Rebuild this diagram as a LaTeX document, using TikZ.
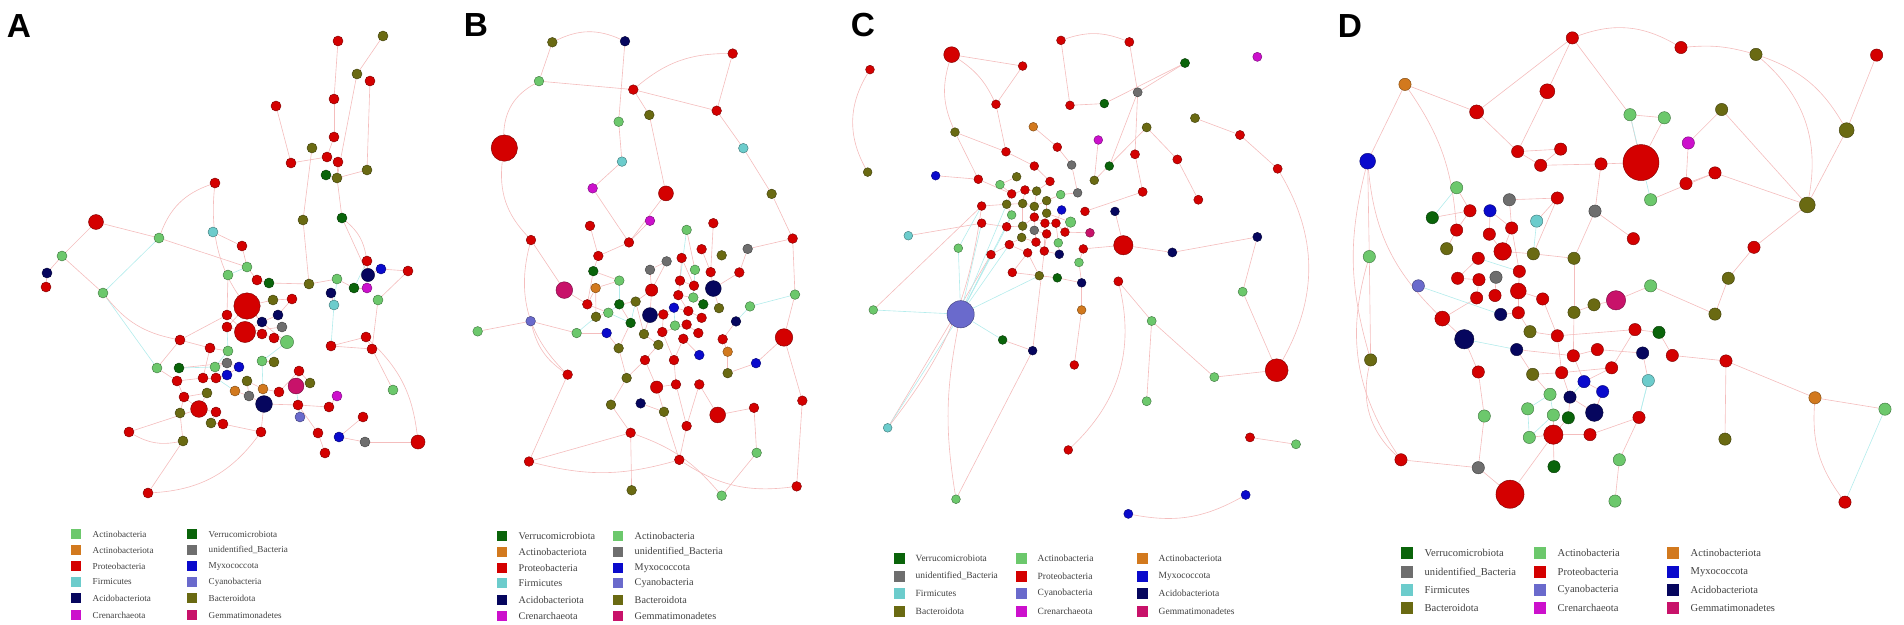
\documentclass[tikz,border=0pt]{standalone}
\usepackage{fontspec}
\setmainfont{Liberation Serif}
\newfontfamily\panelfont{Liberation Sans}
\usetikzlibrary{positioning,backgrounds}

% phylum colours
\definecolor{ac}{HTML}{6CC86C}% Actinobacteria
\definecolor{ao}{HTML}{D2791E}% Actinobacteriota
\definecolor{pr}{HTML}{D40000}% Proteobacteria
\definecolor{fi}{HTML}{6CCCCC}% Firmicutes
\definecolor{ad}{HTML}{06065E}% Acidobacteriota
\definecolor{cr}{HTML}{CC10CC}% Crenarchaeota
\definecolor{ve}{HTML}{0A640A}% Verrucomicrobiota
\definecolor{un}{HTML}{6E6E6E}% unidentified_Bacteria
\definecolor{my}{HTML}{0A0ACC}% Myxococcota
\definecolor{cy}{HTML}{6A6ACC}% Cyanobacteria
\definecolor{ba}{HTML}{6A6A12}% Bacteroidota
\definecolor{ge}{HTML}{C8126A}% Gemmatimonadetes
\definecolor{edgepink}{HTML}{F4BDBD}
\definecolor{edgecyan}{HTML}{B4ECEC}

\tikzset{
  otu/.style={circle, inner sep=0pt, line width=0.25pt},
  pe/.style={draw=edgepink, line width=0.35pt},
  ce/.style={draw=edgecyan, line width=0.35pt},
  keysq/.style={inner sep=0pt},
  keytxt/.style={inner sep=0pt, anchor=west, text=black!75},
  lab/.style={font=\panelfont\bfseries\fontsize{19}{19}\selectfont, inner sep=0pt}
}

\begin{document}
\begin{tikzpicture}[x=0.02cm, y=-0.02cm]
\useasboundingbox (0,0) rectangle (1904,625);

\node[lab] (labA) at (19,26) {A};
\node[lab] (labB) at (476,25) {B};
\node[lab] (labC) at (863,25) {C};
\node[lab] (labD) at (1350,26) {D};

% ---------------- A
\begin{scope}
\foreach \x/\y/\col/\sz [count=\i] in {
  338/41/pr/5.7, 383/36/ba/5.7, 357/74/ba/5.7, 370/81/pr/5.7, 276/106/pr/5.7,
  334/99/pr/5.7, 334/137/pr/5.7, 312/148/ba/5.7, 327/157/pr/5.7, 338/162/pr/5.7,
  291/163/pr/5.7, 367/170/ba/5.7, 326/175/ve/5.7, 337/178/ba/5.7, 215/183/pr/5.7,
  96/222/pr/8.5, 303/220/ba/5.7, 342/218/ve/5.7, 159/238/ac/5.7, 213/232/fi/5.7,
  242/246/pr/5.7, 62/256/ac/5.7, 47/273/ad/5.7, 46/287/pr/5.7, 103/293/ac/5.7,
  247/267/ac/5.7, 228/275/ac/5.7, 257/280/pr/5.7, 269/283/ve/5.7, 309/284/ba/5.7,
  367/261/pr/5.7, 368/275/ad/7.5, 381/269/my/5.7, 408/271/pr/5.7, 337/279/ac/5.7,
  354/288/ve/5.7, 367/288/cr/5.7, 331/293/ad/5.7, 247/306/pr/15, 273/300/ba/5.7,
  292/299/pr/5.7, 334/305/fi/5.7, 378/300/ac/5.7, 227/315/pr/5.7, 227/327/pr/5.7,
  245/332/pr/12, 262/322/ad/5.7, 278/315/ad/5.7, 282/327/un/5.7, 262/334/pr/5.7,
  274/338/pr/5.7, 287/342/ac/7.5, 180/340/pr/5.7, 210/348/pr/5.7, 228/351/ac/5.7,
  331/346/pr/5.7, 366/337/pr/5.7, 372/349/pr/5.7, 157/368/ac/5.7, 179/368/ve/5.7,
  227/363/un/5.7, 215/367/ac/5.7, 239/367/my/5.7, 262/361/ac/5.7, 274/362/ba/5.7,
  177/381/pr/5.7, 203/378/pr/5.7, 216/378/pr/5.7, 227/375/my/5.7, 247/381/ba/5.7,
  299/371/pr/5.7, 296/386/ge/9, 310/383/ba/5.7, 235/391/ao/5.7, 263/389/ao/5.7,
  249/396/un/5.7, 279/392/pr/5.7, 337/396/cr/5.7, 393/390/ac/5.7, 184/397/pr/5.7,
  207/393/ba/5.7, 199/409/pr/9.5, 216/412/pr/5.7, 264/404/ad/9.5, 298/405/pr/5.7,
  329/407/pr/5.7, 180/413/ba/5.7, 300/417/cy/5.7, 363/417/pr/5.7, 211/423/ba/5.7,
  223/424/pr/5.7, 129/432/pr/5.7, 261/432/pr/5.7, 318/433/pr/5.7, 339/437/my/5.7,
  365/442/un/5.7, 418/442/pr/8, 183/441/ba/5.7, 325/453/pr/5.7, 148/493/pr/5.7}
  \node[otu, fill=\col, draw=\col!60!black, minimum size=\sz pt] (a\i) at (\x,\y) {};
\end{scope}

% ---------------- B (left part, read at 3x)
\begin{scope}[shift={(380,0)}, xscale=0.3333, yscale=0.3381]
\foreach \x/\y/\col/\sz [count=\i] in {
  517/125/ba/5.5, 735/122/ad/5.5, 477/240/ac/5.5, 760/265/pr/5.5, 808/340/ba/5.5,
  716/360/ac/5.5, 373/438/pr/15, 726/478/fi/5.5, 638/557/cr/5.5, 858/572/pr/8.5,
  810/653/cr/5.5, 630/668/pr/5.5, 920/680/ac/5.5, 453/710/pr/5.5, 747/717/pr/5.5,
  655/757/pr/5.5, 965/737/pr/5.5, 905/763/pr/5.5, 860/773/un/5.5, 810/798/un/5.5,
  640/802/ve/5.5, 945/798/ac/5.5, 718/830/ac/5.5, 553/858/ge/9.5, 647/852/ao/5.5,
  815/858/pr/7, 900/830/pr/5.5, 942/845/pr/5.5, 622/900/pr/5.5, 718/900/ve/5.5,
  767/892/ba/5.5, 895/873/pr/5.5, 940/880/ac/5.5, 970/900/ve/5.5, 648/937/ba/5.5,
  685/925/ac/5.5, 810/932/ad/8.5, 850/930/pr/5.5, 882/910/my/5.5, 925/920/pr/5.5,
  965/940/pr/5.5, 452/950/cy/5.5, 293/980/ac/5.5, 590/985/ac/5.5, 680/985/my/5.5,
  752/955/ve/5.5, 792/988/ba/5.5, 847/982/pr/5.5, 885/963/ac/5.5, 920/960/pr/5.5,
  955/985/pr/5.5, 910/1002/pr/5.5, 835/1020/ba/5.5, 716/1030/ba/5.5, 958/1050/my/5.5,
  795/1065/pr/5.5, 882/1065/pr/5.5, 563/1108/pr/5.5, 740/1118/ba/5.5, 830/1145/pr/7,
  888/1137/pr/5.5, 958/1137/pr/5.5, 693/1197/ba/5.5, 782/1193/ad/5.5, 852/1218/ba/5.5,
  920/1260/pr/5.5, 752/1280/pr/5.5, 447/1365/pr/5.5, 898/1360/pr/5.5, 755/1450/ba/5.5}
  \node[otu, fill=\col, draw=\col!60!black, minimum size=\sz pt] (b\i) at (\x,\y) {};
\end{scope}

% ---------------- B (right part) and C (left part)
\begin{scope}[shift={(700,0)}, xscale=0.3333, yscale=0.3571]
\foreach \x/\y/\col/\sz [count=\i] in {
  98/150/pr/5.5, 50/310/pr/5.5, 130/415/fi/5.5, 215/543/ba/5.5, 40/625/pr/5.5,
  278/668/pr/5.5, 143/697/un/5.5, 65/715/ba/5.5, 32/762/pr/5.5, 118/763/pr/5.5,
  40/808/ad/9, 285/825/ac/5.5, 57/863/ba/5.5, 150/858/ac/5.5, 108/900/ad/5.5,
  252/945/pr/10, 68/950/pr/5.5, 83/985/ao/5.5, 168/1017/my/5.5, 83/1045/ba/5.5,
  307/1122/pr/5.5, 53/1162/pr/9, 162/1142/pr/5.5, 170/1268/ac/5.5, 290/1362/pr/5.5,
  65/1388/ac/5.5}
  \node[otu, fill=\col, draw=\col!60!black, minimum size=\sz pt] (bb\i) at (\x,\y) {};
\foreach \x/\y/\col/\sz [count=\i] in {
  510/195/pr/5, 755/153/pr/9, 1083/113/pr/5, 968/185/pr/5, 888/292/pr/5,
  1110/295/pr/5, 1213/290/ve/5, 765/370/ba/5, 1000/355/ao/5, 1195/392/cr/5,
  1072/412/pr/5, 918/425/pr/5, 503/482/ba/5, 707/492/my/5, 1003/465/pr/5,
  1115/462/un/5, 1228/465/ve/5, 835/502/pr/5, 950/495/ba/5, 1050/508/pr/5,
  1183/505/ba/5, 900/517/ac/5, 935/543/pr/5, 975/532/pr/5, 1010/535/ba/5,
  1082/545/ac/5, 1133/540/un/5, 845/577/pr/5, 920/572/ba/5, 968/570/ba/5,
  1003/578/ba/5, 1040/562/ba/5, 1085/588/my/5, 1155/592/pr/5, 1245/592/ad/5,
  935/602/ac/5, 1040/597/ba/5, 1112/622/ac/6, 845/625/pr/5, 920/635/pr/5,
  968/633/ba/5, 1003/608/pr/5, 1035/625/pr/5, 1068/625/pr/5, 1003/645/un/5,
  1040/655/pr/5, 1095/650/pr/5, 1170/652/ge/5, 775/695/ac/5, 625/660/fi/5,
  873/713/pr/5, 928/685/pr/5, 965/665/ba/5, 1008/678/pr/5, 983/708/pr/5,
  1033/703/pr/5, 1078/712/ad/5, 1075/680/ac/5, 1150/697/pr/5, 1137/735/ac/5,
  937/763/pr/5, 1018/772/ba/5, 1072/778/ve/5, 1145/792/ad/5, 520/868/ac/5,
  782/880/cy/15.5, 1145/868/ao/5, 908/952/ve/5, 998/982/ad/5, 1123/1022/pr/5,
  563/1198/fi/5, 1105/1260/pr/5, 768/1398/ac/5}
  \node[otu, fill=\col, draw=\col!60!black, minimum size=\sz pt] (c\i) at (\x,\y) {};
\end{scope}

% ---------------- C (right part) and D (left part)
\begin{scope}[shift={(1100,0)}, xscale=0.3333, yscale=0.3444]
\foreach \x/\y/\col/\sz [count=\i] in {
  88/122/pr/5.2, 255/183/ve/5.2, 472/165/cr/5.2, 113/268/un/5.2, 285/343/ba/5.2,
  140/370/ba/5.2, 420/392/pr/5.2, 105/448/pr/5.2, 232/463/pr/5.2, 533/490/pr/5.2,
  128/557/pr/5.2, 295/580/pr/5.2, 70/712/pr/11, 217/733/ad/5.2, 472/688/ad/5.2,
  55/817/pr/5.2, 428/847/ac/5.2, 155/932/ac/5.2, 343/1095/ac/5.2, 530/1075/pr/13,
  140/1165/ac/5.2, 450/1270/pr/5.2, 588/1290/ac/5.2, 437/1437/my/5.2, 85/1492/my/5.2}
  \node[otu, fill=\col, draw=\col!60!black, minimum size=\sz pt] (cc\i) at (\x,\y) {};
\foreach \x/\y/\col/\sz [count=\i] in {
  915/245/ao/7, 1130/325/pr/8, 803/468/my/9, 1070/545/ac/7, 997/632/ve/7,
  1110/612/pr/7, 1070/668/pr/7, 1040/722/ba/7, 808/745/ac/7, 1135/750/pr/7,
  955/830/cy/7, 1073/808/pr/7, 1137/812/pr/7, 1130/865/pr/7, 1027/925/pr/8.5,
  1093/985/ad/11, 812/1045/ba/7, 1135/1080/pr/7, 1153/1208/ac/7, 903/1335/pr/7,
  1135/1358/un/7}
  \node[otu, fill=\col, draw=\col!60!black, minimum size=\sz pt] (d\i) at (\x,\y) {};
\end{scope}

% ---------------- D (right part)
\begin{scope}[shift={(1480,0)}, xscale=0.3333, yscale=0.3444]
\foreach \x/\y/\col/\sz [count=\i] in {
  277/110/pr/7, 603/138/pr/7, 828/158/ba/7, 1190/160/pr/7, 202/265/pr/8.5,
  450/333/ac/7, 553/342/ac/7, 725/318/ba/7, 1100/378/ba/8.5, 625/415/cr/7,
  483/472/pr/20.5, 113/440/pr/7, 242/433/pr/7, 182/480/pr/7, 363/476/pr/7,
  705/502/pr/7, 618/533/pr/7, 232/575/pr/7, 88/580/un/7, 345/613/un/7,
  512/580/ac/7, 982/595/ba/9, 30/612/my/7, 170/642/fi/7, 95/662/pr/7,
  28/680/pr/7, 460/693/pr/7, 68/730/pr/10, 160/737/ba/7, 282/750/ba/7,
  822/718/pr/7, 118/788/pr/7, 48/805/un/7, 745/808/ba/7, 512/830/ac/7,
  115/845/pr/9, 45/858/pr/7, 188/868/pr/7, 408/872/ge/11, 282/907/ba/7,
  342/885/ba/7, 705/912/ba/7, 62/913/ad/7, 115/908/pr/7, 150/963/ba/7,
  232/975/pr/7, 465/957/pr/7, 537/965/ve/7, 110/1015/ad/7, 280/1033/pr/7,
  352/1015/pr/7, 488/1025/ad/7, 577/1032/pr/7, 738/1048/pr/7, 158/1087/ba/7,
  245/1082/pr/7, 395/1068/pr/7, 312/1108/my/7, 368/1137/my/7, 505/1105/fi/7,
  210/1145/ac/7, 270/1153/ad/7, 343/1198/ad/10, 143/1187/ac/7, 220/1205/ac/7,
  265/1213/ve/7, 477/1212/pr/7, 1005/1155/ao/7, 1215/1188/ac/7, 148/1270/ac/7,
  220/1262/pr/11, 330/1262/pr/7, 735/1275/ba/7, 418/1335/ac/7, 222/1355/ve/7,
  90/1435/pr/16, 405/1455/ac/7, 1095/1458/pr/7}
  \node[otu, fill=\col, draw=\col!60!black, minimum size=\sz pt] (dd\i) at (\x,\y) {};
\end{scope}

% ---------------- edges, behind the nodes
\begin{pgfonlayer}{background}
% A
\foreach \u/\v in {a1/a6, a6/a7, a7/a9, a9/a10, a2/a3, a3/a14, a4/a12, a10/a14,
  a12/a14, a5/a11, a11/a9, a13/a14, a14/a18, a18/a32, a17/a30, a8/a17, a16/a19,
  a16/a22, a22/a23, a22/a25, a23/a24, a20/a21, a21/a26, a26/a28, a27/a44, a28/a29,
  a29/a30, a30/a35, a35/a36, a36/a37, a31/a32, a32/a33, a33/a34, a38/a42, a39/a40,
  a39/a45, a40/a41, a41/a48, a46/a47, a46/a50, a44/a53, a53/a59, a59/a66, a66/a80,
  a80/a87, a87/a98, a98/a100, a92/a82, a82/a83, a57/a79, a89/a95, a95/a96, a96/a97,
  a94/a99, a86/a78, a88/a85, a71/a72, a72/a73, a54/a67, a84/a93, a56/a57, a58/a43,
  a34/a43, a61/a62, a63/a69, a70/a75, a76/a84, a77/a71, a85/a94, a93/a91, a90/a91,
  a81/a80, a19/a26, a44/a46, a45/a46, a39/a47, a46/a49, a47/a48, a50/a51, a51/a52,
  a53/a54, a54/a55, a60/a61, a61/a63, a64/a65, a66/a67, a67/a68, a68/a69, a70/a76,
  a74/a76, a75/a77, a80/a82, a81/a82, a83/a90, a84/a85, a85/a86, a71/a73, a56/a58}
  \draw[pe] (\u) -- (\v);
\foreach \u/\v in {a19/a25, a25/a59, a52/a64, a35/a42, a62/a55, a68/a74, a26/a27,
  a45/a55, a42/a56, a31/a36, a72/a88, a60/a62, a64/a75}
  \draw[ce] (\u) -- (\v);
\foreach \u/\v/\b in {a19/a15/25, a25/a53/-20, a100/a93/-25, a97/a57/-20, a18/a31/20,
  a15/a52/-30, a92/a98/-20}
  \draw[pe] (\u) to[bend left=\b] (\v);
% B
\foreach \u/\v in {b1/b3, b3/b4, b2/b6, b6/b8, b4/b5, b8/b9, b9/b15, b10/b15,
  b15/b16, b11/b15, b13/b22, b14/b24, b24/b29, b29/b36, b42/b43, b42/b44, b44/b45,
  b12/b16, b16/b21, b21/b23, b58/b68, b68/b67, b67/b63, b67/b70, b69/b66, b66/b62,
  b60/b61, b61/b57, b57/b52, b37/b38, b38/b39, b39/b40, b20/b19, b19/b26, b26/b37,
  b18/b27, b27/b28, b30/b31, b31/b47, b46/b54, b54/b59, b59/b63, b64/b65, b65/b69,
  b53/b56, b56/b60, b48/b50, b50/b51, b40/b41, b32/b33, b33/b34, b35/b36, b25/b29,
  b21/b29, b17/bb9, bb9/bb11, bb11/bb13, bb11/bb10, bb10/bb7, bb7/bb6, bb6/bb12,
  bb12/bb16, bb16/bb21, bb21/bb25, bb22/bb23, bb23/bb24, bb24/bb26, bb22/b62,
  bb1/bb2, bb2/bb3, bb3/bb4, bb4/bb6, bb5/bb9, bb15/bb17, bb17/bb18, bb18/bb20,
  bb20/bb19, bb19/bb16, b4/bb2, b5/b10, b26/b31, b30/b46, b37/b47, b38/b48, b32/b40,
  b27/b32, b18/b28, b20/b26, b23/b25, b25/b35, b45/b54, b47/b53, b48/b57, b52/b55,
  b56/b59, b60/b65, b61/b66}
  \draw[pe] (\u) -- (\v);
\foreach \u/\v in {b22/b33, b23/b30, b36/b46, b44/b35, bb14/bb15, bb12/bb14,
  b49/b39, b13/b27, b31/b46, b36/b30}
  \draw[ce] (\u) -- (\v);
\foreach \u/\v/\b in {b7/b14/-25, b7/b3/30, b4/bb1/20, b58/b14/30, b68/b69/-15,
  bb25/b69/20, b42/b58/-20, b1/b2/25, bb26/b67/-15}
  \draw[pe] (\u) to[bend left=\b] (\v);
% C
\foreach \u/\v in {c3/c6, c4/c5, c5/c12, c6/c7, c8/c18, c8/c12, c9/c11, c11/c16,
  c14/c18, c12/c15, c15/c20, c16/c27, c17/cc4, c7/cc2, cc2/cc4, cc1/cc4, cc4/cc8,
  cc6/cc9, cc5/cc7, cc7/cc10, cc9/cc12, cc8/cc11, cc11/c34, cc13/c59, cc13/cc14,
  cc14/cc15, cc15/cc17, cc16/cc18, cc18/cc19, cc19/cc20, cc17/cc20, cc18/cc21,
  cc22/cc23, c18/c23, c23/c24, c24/c25, c25/c20, c28/c29, c29/c30, c30/c31,
  c31/c32, c32/c26, c26/c27, c39/c40, c40/c41, c41/c42, c42/c43, c43/c44, c44/c47,
  c47/c48, c51/c52, c52/c53, c53/c54, c54/c56, c56/c57, c57/c58, c59/c60, c60/c64,
  c61/c62, c62/c63, c63/c64, c65/c28, c50/c39, c71/c51, c73/c69, c69/c68, c69/c56,
  c70/c67, c67/c64, c35/cc13, c21/cc6, c2/c4, c10/c21, c19/c22, c22/c23, c36/c40,
  c45/c46, c37/c38, c55/c61, c23/c29, c24/c30, c25/c31, c29/c36, c30/c41, c31/c42,
  c32/c37, c41/c53, c42/c54, c43/c56, c44/c58, c37/c43, c46/c56, c52/c55, c55/c62,
  c38/c47, c33/c44}
  \draw[pe] (\u) -- (\v);
\foreach \u/\v in {c66/c49, c66/c36, c66/c29, c66/c40, c66/c62, c66/c68, c66/c71,
  c66/c65, c66/c51, c49/c28, c66/c39, c66/c52}
  \draw[ce] (\u) -- (\v);
\foreach \u/\v/\b in {c1/c13/-30, c72/cc16/-30, cc24/cc25/20, c2/c5/15,
  c73/c66/10, cc20/cc10/-30, c3/cc1/20, c71/c28/-15, c2/c8/-20}
  \draw[pe] (\u) to[bend left=\b] (\v);
% D
\foreach \u/\v in {d1/d2, d1/d3, d3/d9, d9/d17, d20/d21, d21/dd76, dd76/dd71,
  d4/d6, d5/d6, d6/d7, d7/d8, d10/d12, d12/d13, d13/d14, d14/d15, d15/d16, d16/d18,
  d18/d19, d19/d21, dd1/dd6, dd4/dd9, dd9/dd22, dd8/dd22, dd8/dd10, dd6/dd7,
  dd7/dd11, dd11/dd15, dd11/dd6, dd12/dd13, dd13/dd14, dd14/dd15, dd15/dd20,
  dd16/dd17, dd17/dd10, dd16/dd22, dd22/dd31, dd31/dd34, dd34/dd42, dd42/dd35,
  dd35/dd39, dd39/dd41, dd41/dd40, dd27/dd20, dd19/dd18, dd18/dd24, dd23/dd25,
  dd25/dd28, dd28/dd29, dd29/dd30, dd32/dd36, dd36/dd38, dd33/dd37, dd43/dd44,
  dd44/dd45, dd45/dd46, dd46/dd47, dd47/dd48, dd48/dd53, dd53/dd54, dd54/dd73,
  dd49/dd50, dd50/dd51, dd51/dd52, dd52/dd60, dd55/dd56, dd56/dd57, dd57/dd58,
  dd58/dd59, dd59/dd63, dd62/dd66, dd65/dd71, dd70/dd71, dd71/dd72, dd72/dd67,
  dd67/dd74, dd74/dd77, dd75/dd71, dd68/dd69, dd68/dd54, dd5/dd12, dd5/dd1,
  dd21/dd16, d2/dd12, d2/dd1, dd12/dd14, dd19/dd25, dd25/dd32, dd32/dd44,
  dd36/dd44, dd38/dd46, dd46/dd56, dd56/dd62, dd62/dd63, dd63/dd59, dd57/dd47,
  dd49/dd55, dd55/dd61, dd66/dd71, dd20/dd30, dd30/dd40, dd40/dd50, dd50/dd58,
  dd18/dd29, dd26/dd28, dd26/dd23}
  \draw[pe] (\u) -- (\v);
\foreach \u/\v in {dd61/dd64, dd65/dd70, dd60/dd67, dd58/dd62, dd24/dd29, d11/dd43,
  d16/dd49, dd6/dd21, dd69/dd78, d4/d5, d10/dd32, dd61/dd65, dd64/dd70, dd67/dd60}
  \draw[ce] (\u) -- (\v);
\foreach \u/\v/\b in {d1/d7/15, d3/d15/-20, d17/d20/-30, dd3/dd22/30, dd68/dd78/-20,
  d9/d20/-25, dd2/dd3/10, dd3/dd9/20, dd1/dd2/25, d3/d17/-15}
  \draw[pe] (\u) to[bend left=\b] (\v);
\end{pgfonlayer}

% ---------------- keys
\begin{scope}[font=\fontsize{5.2}{6}\selectfont]
\foreach \x/\y/\col/\txt [count=\i] in {
  76/534/ac/Actinobacteria, 76/550/ao/Actinobacteriota, 76/566/pr/Proteobacteria,
  76/582/fi/Firmicutes, 76/598/ad/Acidobacteriota, 76/615/cr/Crenarchaeota,
  192/534/ve/Verrucomicrobiota, 192/550/un/unidentified\_Bacteria,
  192/566/my/Myxococcota, 192/582/cy/Cyanobacteria, 192/598/ba/Bacteroidota,
  192/615/ge/Gemmatimonadetes}
{
  \node[keysq, fill=\col, minimum size=0.2cm] (ka\i) at (\x,\y) {};
  \node[keytxt, right=0.22cm of ka\i] (kat\i) {\txt};
}
\end{scope}
\begin{scope}[font=\fontsize{5.8}{7}\selectfont]
\foreach \x/\y/\col/\txt [count=\i] in {
  502/536/ve/Verrucomicrobiota, 502/552/ao/Actinobacteriota, 502/568/pr/Proteobacteria,
  502/583/fi/Firmicutes, 502/600/ad/Acidobacteriota, 502/616/cr/Crenarchaeota,
  618/536/ac/Actinobacteria, 618/552/un/unidentified\_Bacteria,
  618/568/my/Myxococcota, 618/583/cy/Cyanobacteria, 618/600/ba/Bacteroidota,
  618/616/ge/Gemmatimonadetes}
{
  \node[keysq, fill=\col, minimum size=0.2cm] (kb\i) at (\x,\y) {};
  \node[keytxt, right=0.22cm of kb\i] (kbt\i) {\txt};
}
\end{scope}
\begin{scope}[font=\fontsize{5.4}{6.5}\selectfont]
\foreach \x/\y/\col/\txt [count=\i] in {
  899/558/ve/Verrucomicrobiota, 899/576/un/unidentified\_Bacteria,
  899/593/fi/Firmicutes, 899/611/ba/Bacteroidota,
  1021/558/ac/Actinobacteria, 1021/576/pr/Proteobacteria,
  1021/593/cy/Cyanobacteria, 1021/611/cr/Crenarchaeota,
  1142/558/ao/Actinobacteriota, 1142/576/my/Myxococcota,
  1142/593/ad/Acidobacteriota, 1142/611/ge/Gemmatimonadetes}
{
  \node[keysq, fill=\col, minimum size=0.22cm] (kc\i) at (\x,\y) {};
  \node[keytxt, right=0.21cm of kc\i] (kct\i) {\txt};
}
\end{scope}
\begin{scope}[font=\fontsize{6}{7}\selectfont]
\foreach \x/\y/\col/\txt [count=\i] in {
  1407/553/ve/Verrucomicrobiota, 1407/572/un/unidentified\_Bacteria,
  1407/590/fi/Firmicutes, 1407/608/ba/Bacteroidota,
  1540/553/ac/Actinobacteria, 1540/572/pr/Proteobacteria,
  1540/590/cy/Cyanobacteria, 1540/608/cr/Crenarchaeota,
  1673/553/ao/Actinobacteriota, 1673/572/my/Myxococcota,
  1673/590/ad/Acidobacteriota, 1673/608/ge/Gemmatimonadetes}
{
  \node[keysq, fill=\col, minimum size=0.24cm] (kd\i) at (\x,\y) {};
  \node[keytxt, right=0.22cm of kd\i] (kdt\i) {\txt};
}
\end{scope}
\end{tikzpicture}
\end{document}
